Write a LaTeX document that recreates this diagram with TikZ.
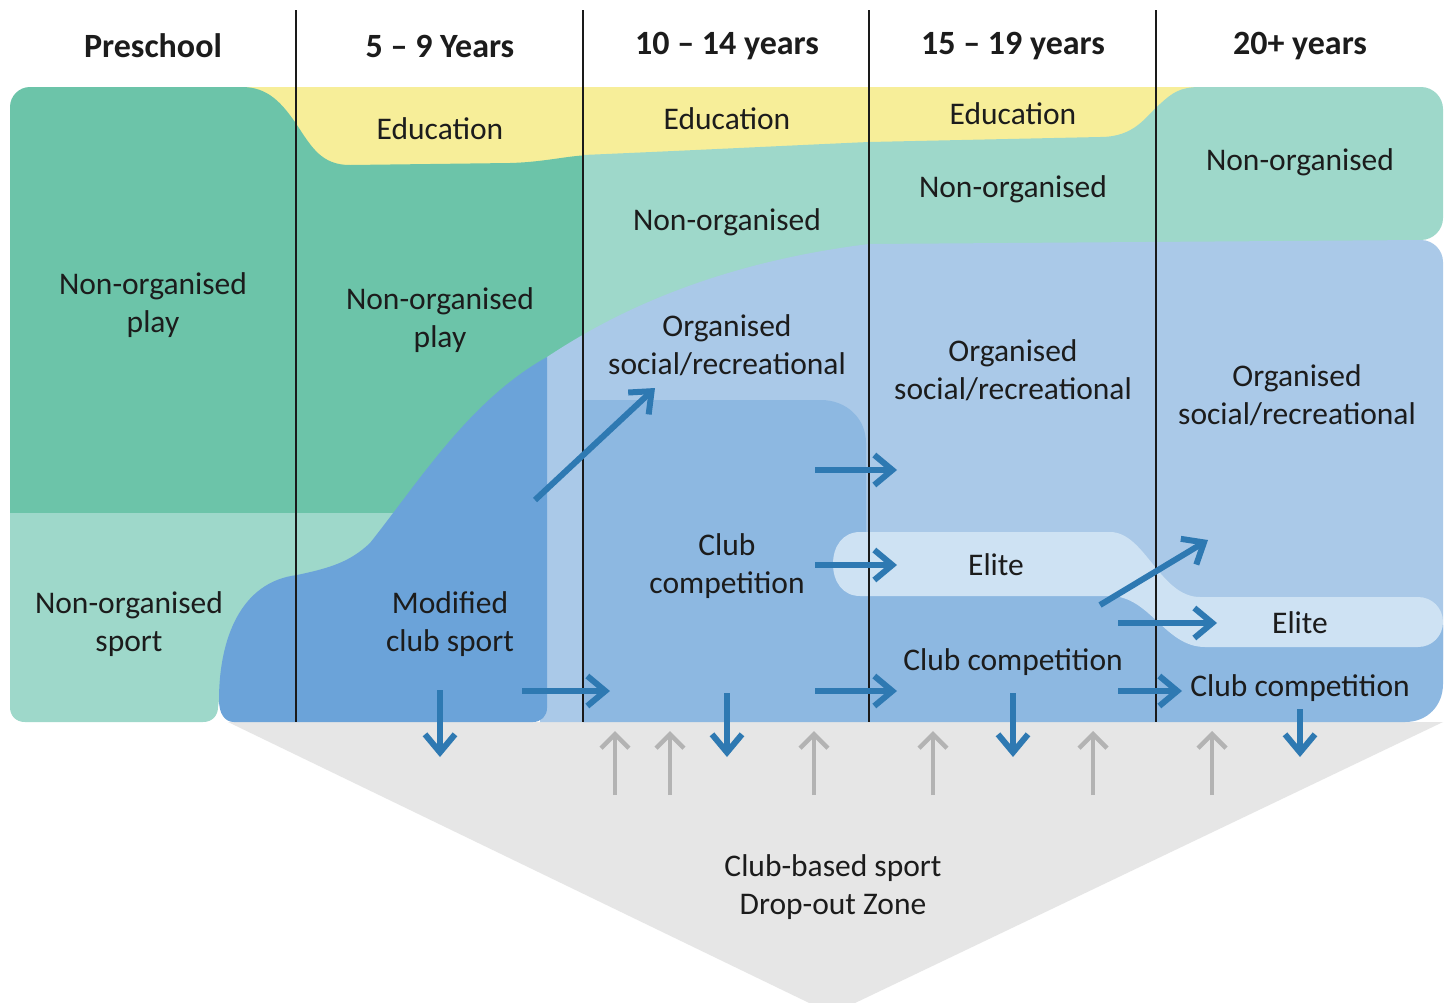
\documentclass[tikz,border=0pt]{standalone}
\usepackage{fontspec}
\setmainfont{Carlito}
\usetikzlibrary{arrows.meta}
\definecolor{dgreen}{HTML}{6CC4A9}
\definecolor{lteal}{HTML}{9ED8CA}
\definecolor{yell}{HTML}{F7EE99}
\definecolor{lblue}{HTML}{AAC9E8}
\definecolor{mblue}{HTML}{8DB8E1}
\definecolor{dblue}{HTML}{6BA3D9}
\definecolor{elitec}{HTML}{CEE2F3}
\definecolor{greyz}{HTML}{E6E6E6}
\definecolor{arrowb}{HTML}{2E79B2}
\definecolor{arrowg}{HTML}{B3B3B3}
\definecolor{txt}{HTML}{1C1C1C}
\definecolor{linec}{HTML}{1A1A1A}
\tikzset{
  lbl/.style={font=\fontsize{31.5}{38}\selectfont, align=center, text=txt, inner sep=0pt},
  hdr/.style={font=\bfseries\fontsize{34}{40}\selectfont, text=txt, inner sep=0pt},
  barrow/.style={draw=arrowb, line width=6pt, -{Straight Barb[length=18pt,width=30pt]}},
  garrow/.style={draw=arrowg, line width=4.5pt, -{Straight Barb[length=14pt,width=28pt]}},
  divider/.style={draw=linec, line width=1.5pt},
}
\begin{document}
\begin{tikzpicture}[x=1pt,y=-1pt]
\useasboundingbox (0,0) rectangle (1451,1002);
\clip (0,0) rectangle (1451,1002);
\fill[white] (0,0) rectangle (1451,1002);

% drop-out zone
\fill[greyz] (228,722) -- (1443,722) -- (832,1014) -- cycle;

% education band
\fill[yell] (230,87) -- (1210,87) -- (1210,200) -- (230,200) -- cycle;

% non-organised play (dark green)
\fill[dgreen] (10,513) -- (10,107) .. controls (10,96) and (19,87) .. (30,87) -- (242,87)
  .. controls (268,87) and (282,103) .. (297,125)
  .. controls (312,148) and (322,165) .. (350,165) -- (510,163)
  .. controls (545,162) and (565,156) .. (590,155) -- (590,513) -- cycle;

% non-organised sport (light teal, lower left)
\fill[lteal] (10,513) -- (10,707) .. controls (10,716) and (16,722) .. (25,722) -- (203,722)
  .. controls (212,722) and (218,716) .. (218,707) -- (219,700) -- (260,700) -- (400,650) -- (420,513) -- cycle;

% non-organised (light teal, upper right)
\fill[lteal] (583,155) .. controls (700,150) and (800,145) .. (869,142) -- (1100,137)
  .. controls (1135,137) and (1145,117) .. (1160,104)
  .. controls (1172,93) and (1180,87) .. (1200,87) -- (1421,87)
  .. controls (1433,87) and (1443,97) .. (1443,109) -- (1443,218)
  .. controls (1443,230) and (1433,240) .. (1421,240) -- (1350,244) -- (869,262) -- (583,440) -- cycle;

% organised social/recreational (light blue)
\fill[lblue] (547,357) .. controls (600,322) and (700,265) .. (869,244) -- (1421,240)
  .. controls (1433,240) and (1443,250) .. (1443,262) -- (1443,660) -- (600,660) -- (600,722)
  -- (540,722) -- (540,365) -- cycle;

% modified club sport (dark blue)
\fill[dblue] (234,722) .. controls (225,722) and (219,714) .. (219,700)
  .. controls (219,640) and (240,582) .. (297,575)
  .. controls (330,568) and (350,562) .. (370,543)
  .. controls (420,480) and (470,400) .. (547,357) -- (547,708)
  .. controls (547,716) and (541,722) .. (533,722) -- cycle;

% club competition (medium blue)
\fill[mblue] (583,722) -- (583,400) -- (821,400) .. controls (846,400) and (866,418) .. (866,443)
  -- (866,575) -- (1115,575) .. controls (1140,575) and (1160,625) .. (1190,625) -- (1443,625)
  -- (1443,684) .. controls (1443,705) and (1428,722) .. (1405,722) -- cycle;

% elite band
\fill[elitec] (860,532) -- (1110,532) .. controls (1145,532) and (1160,597) .. (1200,597)
  -- (1418,597) .. controls (1432,597) and (1443,608) .. (1443,622)
  .. controls (1443,636) and (1432,647) .. (1418,647) -- (1205,647)
  .. controls (1165,647) and (1150,596) .. (1110,596) -- (860,596)
  .. controls (843,596) and (833,582) .. (833,564)
  .. controls (833,546) and (843,532) .. (860,532) -- cycle;

% column dividers
\foreach \xx/\nm in {296/a,583/b,869/c,1156/d}{
  \coordinate (top\nm) at (\xx,10);
  \coordinate (bot\nm) at (\xx,722);
  \draw[divider] (top\nm) -- (bot\nm);
}

% headers
\node[hdr] (hPre) at (153,46) {Preschool};
\node[hdr] (h59) at (440,46) {5 – 9 Years};
\node[hdr] (h1014) at (727,46) {10 – 14 years};
\node[hdr] (h1519) at (1013,46) {15 – 19 years};
\node[hdr] (h20) at (1300,46) {20+ years};

% labels
\node[lbl] (edu1) at (440,129) {Education};
\node[lbl] (edu2) at (727,119) {Education};
\node[lbl] (edu3) at (1013,114) {Education};
\node[lbl] (play1) at (153,305) {Non-organised\\play};
\node[lbl] (play2) at (440,320) {Non-organised\\play};
\node[lbl] (nsport) at (129,624) {Non-organised\\sport};
\node[lbl] (non1) at (727,222) {Non-organised};
\node[lbl] (non2) at (1013,189) {Non-organised};
\node[lbl] (non3) at (1300,162) {Non-organised};
\node[lbl] (org1) at (727,345) {Organised\\social/recreational};
\node[lbl] (org2) at (1013,370) {Organised\\social/recreational};
\node[lbl] (org3) at (1297,395) {Organised\\social/recreational};
\node[lbl] (mod) at (450,624) {Modified\\club sport};
\node[lbl] (club1) at (727,566) {Club\\competition};
\node[lbl] (elite1) at (996,565) {Elite};
\node[lbl] (elite2) at (1300,623) {Elite};
\node[lbl] (club2) at (1013,662) {Club competition};
\node[lbl] (club3) at (1300,688) {Club competition};
\node[lbl] (drop) at (833,887) {Club-based sport\\Drop-out Zone};

% blue arrow end points
\coordinate (b1s) at (535,500);  \coordinate (b1e) at (655,388);
\coordinate (b2s) at (815,470);  \coordinate (b2e) at (897,470);
\coordinate (b3s) at (815,565);  \coordinate (b3e) at (897,565);
\coordinate (b4s) at (522,691);  \coordinate (b4e) at (610,691);
\coordinate (b5s) at (815,691);  \coordinate (b5e) at (897,691);
\coordinate (b6s) at (1100,605); \coordinate (b6e) at (1208,540);
\coordinate (b7s) at (1118,623); \coordinate (b7e) at (1217,623);
\coordinate (b8s) at (1118,691); \coordinate (b8e) at (1182,691);
\coordinate (d1s) at (440,690);  \coordinate (d1e) at (440,757);
\coordinate (d2s) at (727,693);  \coordinate (d2e) at (727,757);
\coordinate (d3s) at (1013,693); \coordinate (d3e) at (1013,757);
\coordinate (d4s) at (1300,709); \coordinate (d4e) at (1300,757);

\foreach \a in {b1,b2,b3,b4,b5,b6,b7,b8,d1,d2,d3,d4}{
  \draw[barrow] (\a s) -- (\a e);
}

% grey arrows (returning)
\foreach \xx/\nm in {615/g1,670/g2,814/g3,933/g4,1093/g5,1212/g6}{
  \coordinate (\nm s) at (\xx,795);
  \coordinate (\nm e) at (\xx,731);
  \draw[garrow] (\nm s) -- (\nm e);
}
\end{tikzpicture}
\end{document}
